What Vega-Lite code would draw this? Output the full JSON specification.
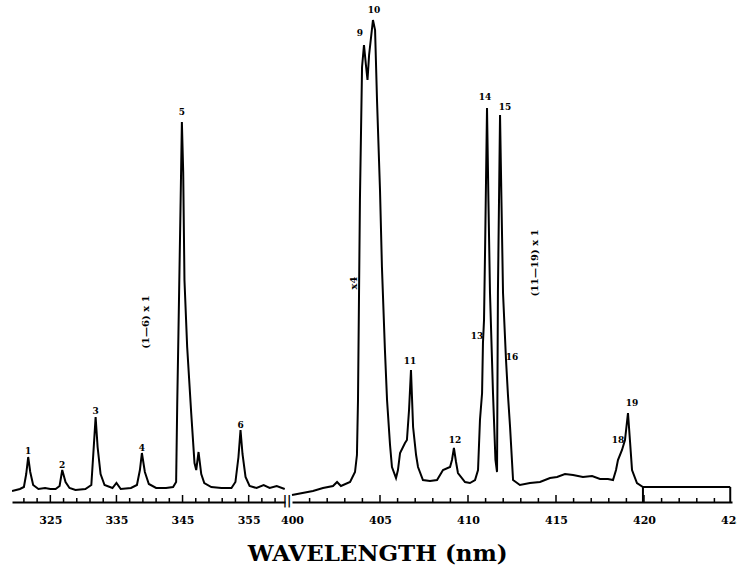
{
  "$schema": "https://vega.github.io/schema/vega-lite/v6.json",
  "padding": {"left": 12, "top": 5, "right": 5, "bottom": 0},
  "background": "white",
  "bounds": "flush",
  "title": {"text": "WAVELENGTH (nm)", "orient": "bottom", "anchor": "middle", "font": "DejaVu Serif", "fontSize": 23, "fontWeight": "bold", "color": "black", "offset": 18},
  "spacing": 7,
  "datasets": {
    "left": [
      {"wl": 319.2, "I": 11}, {"wl": 320.4, "I": 13}, {"wl": 321.0, "I": 15}, {"wl": 321.35, "I": 28}, {"wl": 321.65, "I": 45}, {"wl": 321.96, "I": 30}, {"wl": 322.4, "I": 17}, {"wl": 323.2, "I": 13}, {"wl": 324.2, "I": 14}, {"wl": 325.0, "I": 13}, {"wl": 325.8, "I": 13}, {"wl": 326.4, "I": 16}, {"wl": 326.8, "I": 32}, {"wl": 327.3, "I": 20}, {"wl": 327.9, "I": 14}, {"wl": 328.8, "I": 12}, {"wl": 330.3, "I": 13}, {"wl": 331.2, "I": 17}, {"wl": 331.5, "I": 48}, {"wl": 331.85, "I": 85}, {"wl": 332.15, "I": 55}, {"wl": 332.6, "I": 28}, {"wl": 333.2, "I": 17}, {"wl": 334.4, "I": 14}, {"wl": 335.0, "I": 19}, {"wl": 335.65, "I": 13}, {"wl": 337.2, "I": 14}, {"wl": 338.1, "I": 17}, {"wl": 338.55, "I": 32}, {"wl": 338.85, "I": 49}, {"wl": 339.3, "I": 30}, {"wl": 339.9, "I": 18}, {"wl": 341.0, "I": 14}, {"wl": 342.5, "I": 14}, {"wl": 343.57, "I": 15}, {"wl": 344.03, "I": 20}, {"wl": 344.2, "I": 100}, {"wl": 344.38, "I": 169}, {"wl": 344.68, "I": 289}, {"wl": 344.9, "I": 380}, {"wl": 345.1, "I": 330}, {"wl": 345.29, "I": 222}, {"wl": 345.7, "I": 155}, {"wl": 346.31, "I": 89}, {"wl": 346.81, "I": 39}, {"wl": 347.07, "I": 32}, {"wl": 347.42, "I": 50}, {"wl": 347.83, "I": 28}, {"wl": 348.29, "I": 19}, {"wl": 349.35, "I": 15}, {"wl": 350.88, "I": 14}, {"wl": 352.4, "I": 14}, {"wl": 353.0, "I": 20}, {"wl": 353.46, "I": 45}, {"wl": 353.77, "I": 72}, {"wl": 354.07, "I": 48}, {"wl": 354.53, "I": 25}, {"wl": 355.14, "I": 16}, {"wl": 356.2, "I": 14}, {"wl": 357.27, "I": 17}, {"wl": 358.18, "I": 14}, {"wl": 359.25, "I": 16}, {"wl": 360.46, "I": 13}
    ],
    "right": [
      {"wl": 400.0, "I": 7}, {"wl": 401.19, "I": 11}, {"wl": 401.76, "I": 14}, {"wl": 402.33, "I": 16}, {"wl": 402.56, "I": 20}, {"wl": 402.78, "I": 16}, {"wl": 403.3, "I": 20}, {"wl": 403.58, "I": 30}, {"wl": 403.69, "I": 47}, {"wl": 403.75, "I": 102}, {"wl": 403.86, "I": 302}, {"wl": 403.98, "I": 435}, {"wl": 404.09, "I": 457}, {"wl": 404.2, "I": 437}, {"wl": 404.29, "I": 422}, {"wl": 404.38, "I": 447}, {"wl": 404.6, "I": 482}, {"wl": 404.72, "I": 472}, {"wl": 404.83, "I": 402}, {"wl": 405.0, "I": 312}, {"wl": 405.11, "I": 235}, {"wl": 405.28, "I": 152}, {"wl": 405.4, "I": 102}, {"wl": 405.57, "I": 57}, {"wl": 405.68, "I": 35}, {"wl": 405.91, "I": 24}, {"wl": 406.02, "I": 32}, {"wl": 406.14, "I": 49}, {"wl": 406.42, "I": 59}, {"wl": 406.53, "I": 62}, {"wl": 406.65, "I": 92}, {"wl": 406.76, "I": 132}, {"wl": 406.88, "I": 75}, {"wl": 407.05, "I": 47}, {"wl": 407.16, "I": 35}, {"wl": 407.44, "I": 22}, {"wl": 407.84, "I": 21}, {"wl": 408.24, "I": 22}, {"wl": 408.58, "I": 32}, {"wl": 408.98, "I": 35}, {"wl": 409.09, "I": 42}, {"wl": 409.2, "I": 54}, {"wl": 409.32, "I": 40}, {"wl": 409.43, "I": 29}, {"wl": 409.83, "I": 20}, {"wl": 410.11, "I": 19}, {"wl": 410.4, "I": 22}, {"wl": 410.57, "I": 32}, {"wl": 410.68, "I": 82}, {"wl": 410.8, "I": 109}, {"wl": 410.85, "I": 159}, {"wl": 410.91, "I": 182}, {"wl": 410.97, "I": 252}, {"wl": 411.08, "I": 394}, {"wl": 411.16, "I": 302}, {"wl": 411.25, "I": 209}, {"wl": 411.42, "I": 109}, {"wl": 411.56, "I": 42}, {"wl": 411.65, "I": 30}, {"wl": 411.7, "I": 209}, {"wl": 411.82, "I": 387}, {"wl": 411.9, "I": 302}, {"wl": 411.99, "I": 209}, {"wl": 412.16, "I": 142}, {"wl": 412.27, "I": 107}, {"wl": 412.39, "I": 75}, {"wl": 412.56, "I": 22}, {"wl": 412.95, "I": 17}, {"wl": 413.52, "I": 19}, {"wl": 414.09, "I": 20}, {"wl": 414.66, "I": 24}, {"wl": 415.06, "I": 25}, {"wl": 415.51, "I": 28}, {"wl": 415.97, "I": 27}, {"wl": 416.53, "I": 25}, {"wl": 417.05, "I": 26}, {"wl": 417.5, "I": 23}, {"wl": 417.95, "I": 23}, {"wl": 418.24, "I": 22}, {"wl": 418.41, "I": 32}, {"wl": 418.52, "I": 42}, {"wl": 418.75, "I": 52}, {"wl": 418.92, "I": 62}, {"wl": 419.09, "I": 89}, {"wl": 419.2, "I": 62}, {"wl": 419.32, "I": 32}, {"wl": 419.6, "I": 19}, {"wl": 419.94, "I": 15}, {"wl": 420.91, "I": 15}, {"wl": 422.61, "I": 15}, {"wl": 424.9, "I": 15}
    ],
    "box": [{"wl": 419.94, "I0": 0, "I1": 15}, {"wl": 424.9, "I0": 0, "I1": 15}],
    "ticksLeftMinor": [{"wl": 321}, {"wl": 323}, {"wl": 327}, {"wl": 329}, {"wl": 331}, {"wl": 333}, {"wl": 337}, {"wl": 339}, {"wl": 341}, {"wl": 343}, {"wl": 347}, {"wl": 349}, {"wl": 351}, {"wl": 353}, {"wl": 357}, {"wl": 359}],
    "ticksLeftMajor": [{"wl": 325}, {"wl": 335}, {"wl": 345}, {"wl": 355}],
    "ticksRightMinor": [{"wl": 401}, {"wl": 402}, {"wl": 403}, {"wl": 404}, {"wl": 406}, {"wl": 407}, {"wl": 408}, {"wl": 409}, {"wl": 411}, {"wl": 412}, {"wl": 413}, {"wl": 414}, {"wl": 416}, {"wl": 417}, {"wl": 418}, {"wl": 419}, {"wl": 421}, {"wl": 422}, {"wl": 423}, {"wl": 424}],
    "ticksRightMajor": [{"wl": 405}, {"wl": 410}, {"wl": 415}, {"wl": 420}],
    "leftLabels": [
      {"wl": 321.65, "I": 51, "t": "1"}, {"wl": 326.8, "I": 37, "t": "2"}, {"wl": 331.85, "I": 91, "t": "3"}, {"wl": 338.85, "I": 54, "t": "4"}, {"wl": 344.9, "I": 390, "t": "5"}, {"wl": 353.77, "I": 77, "t": "6"}
    ],
    "rightLabels": [
      {"wl": 403.86, "I": 469, "t": "9"}, {"wl": 404.66, "I": 492, "t": "10"}, {"wl": 406.7, "I": 141, "t": "11"}, {"wl": 409.26, "I": 62, "t": "12"}, {"wl": 410.51, "I": 166, "t": "13"}, {"wl": 410.97, "I": 405, "t": "14"}, {"wl": 412.1, "I": 395, "t": "15"}, {"wl": 412.5, "I": 145, "t": "16"}, {"wl": 418.52, "I": 62, "t": "18"}, {"wl": 419.32, "I": 99, "t": "19"}
    ],
    "leftNotes": [{"wl": 339.46, "I": 180, "t": "(1—6) x 1"}],
    "rightNotes": [{"wl": 403.52, "I": 219, "t": "x4"}, {"wl": 413.8, "I": 239, "t": "(11—19) x 1"}],
    "breakMark": [{"wl": 399.72, "I": 1, "t": "||"}]
  },
  "hconcat": [
    {
      "width": 273,
      "height": 497,
      "layer": [
        {
          "data": {"name": "left"},
          "mark": {"type": "line", "color": "black", "strokeWidth": 2, "clip": true},
          "encoding": {
            "x": {"field": "wl", "type": "quantitative",
              "scale": {"domain": [319.2, 360.5], "nice": false, "zero": false},
              "axis": {"title": null, "values": [325, 335, 345, 355], "tickCount": 200, "format": "d", "ticks": false,
                "labelOverlap": false, "labelFlush": false, "labelPadding": 12}},
            "y": {"field": "I", "type": "quantitative", "scale": {"domain": [0, 497], "nice": false}, "axis": null}
          }
        },
        {
          "data": {"name": "ticksLeftMinor"},
          "mark": {"type": "rule", "color": "black", "strokeWidth": 1.5},
          "encoding": {
            "x": {"field": "wl", "type": "quantitative"},
            "y": {"datum": 0},
            "y2": {"datum": 4}
          }
        },
        {
          "data": {"name": "ticksLeftMajor"},
          "mark": {"type": "rule", "color": "black", "strokeWidth": 1.5},
          "encoding": {
            "x": {"field": "wl", "type": "quantitative"},
            "y": {"datum": 0},
            "y2": {"datum": 7}
          }
        },
        {
          "data": {"name": "leftLabels"},
          "mark": {"type": "text", "font": "DejaVu Serif", "fontSize": 9, "fontWeight": "bold", "fill": "black"},
          "encoding": {
            "x": {"field": "wl", "type": "quantitative"},
            "y": {"field": "I", "type": "quantitative"},
            "text": {"field": "t"}
          }
        },
        {
          "data": {"name": "leftNotes"},
          "mark": {"type": "text", "font": "DejaVu Serif", "fontSize": 10, "fontWeight": "bold", "fill": "black", "angle": 270},
          "encoding": {
            "x": {"field": "wl", "type": "quantitative"},
            "y": {"field": "I", "type": "quantitative"},
            "text": {"field": "t"}
          }
        }
      ]
    },
    {
      "width": 440,
      "height": 497,
      "layer": [
        {
          "data": {"name": "right"},
          "mark": {"type": "line", "color": "black", "strokeWidth": 2},
          "encoding": {
            "x": {"field": "wl", "type": "quantitative",
              "scale": {"domain": [400, 425], "nice": false, "zero": false},
              "axis": {"title": null, "values": [400, 405, 410, 415, 420, 425], "tickCount": 200, "format": "d", "ticks": false,
                "labelOverlap": false, "labelFlush": false, "labelPadding": 12}},
            "y": {"field": "I", "type": "quantitative", "scale": {"domain": [0, 497], "nice": false}, "axis": null}
          }
        },
        {
          "data": {"name": "ticksRightMinor"},
          "mark": {"type": "rule", "color": "black", "strokeWidth": 1.5},
          "encoding": {
            "x": {"field": "wl", "type": "quantitative"},
            "y": {"datum": 0},
            "y2": {"datum": 4}
          }
        },
        {
          "data": {"name": "ticksRightMajor"},
          "mark": {"type": "rule", "color": "black", "strokeWidth": 1.5},
          "encoding": {
            "x": {"field": "wl", "type": "quantitative"},
            "y": {"datum": 0},
            "y2": {"datum": 7}
          }
        },
        {
          "data": {"name": "box"},
          "mark": {"type": "rule", "color": "black", "strokeWidth": 2},
          "encoding": {
            "x": {"field": "wl", "type": "quantitative"},
            "y": {"field": "I0", "type": "quantitative"},
            "y2": {"field": "I1"}
          }
        },
        {
          "data": {"name": "rightLabels"},
          "mark": {"type": "text", "font": "DejaVu Serif", "fontSize": 9, "fontWeight": "bold", "fill": "black"},
          "encoding": {
            "x": {"field": "wl", "type": "quantitative"},
            "y": {"field": "I", "type": "quantitative"},
            "text": {"field": "t"}
          }
        },
        {
          "data": {"name": "rightNotes"},
          "mark": {"type": "text", "font": "DejaVu Serif", "fontSize": 10, "fontWeight": "bold", "fill": "black", "angle": 270},
          "encoding": {
            "x": {"field": "wl", "type": "quantitative"},
            "y": {"field": "I", "type": "quantitative"},
            "text": {"field": "t"}
          }
        },
        {
          "data": {"name": "breakMark"},
          "mark": {"type": "text", "font": "DejaVu Sans", "fontSize": 12, "fontWeight": "bold", "fill": "black"},
          "encoding": {
            "x": {"field": "wl", "type": "quantitative"},
            "y": {"field": "I", "type": "quantitative"},
            "text": {"field": "t"}
          }
        }
      ]
    }
  ],
  "config": {
    "view": {"stroke": null},
    "axis": {
      "domainColor": "black", "domainWidth": 2,
      "labelFont": "DejaVu Serif", "labelFontWeight": "bold", "labelFontSize": 11, "labelColor": "black",
      "grid": false
    }
  }
}
